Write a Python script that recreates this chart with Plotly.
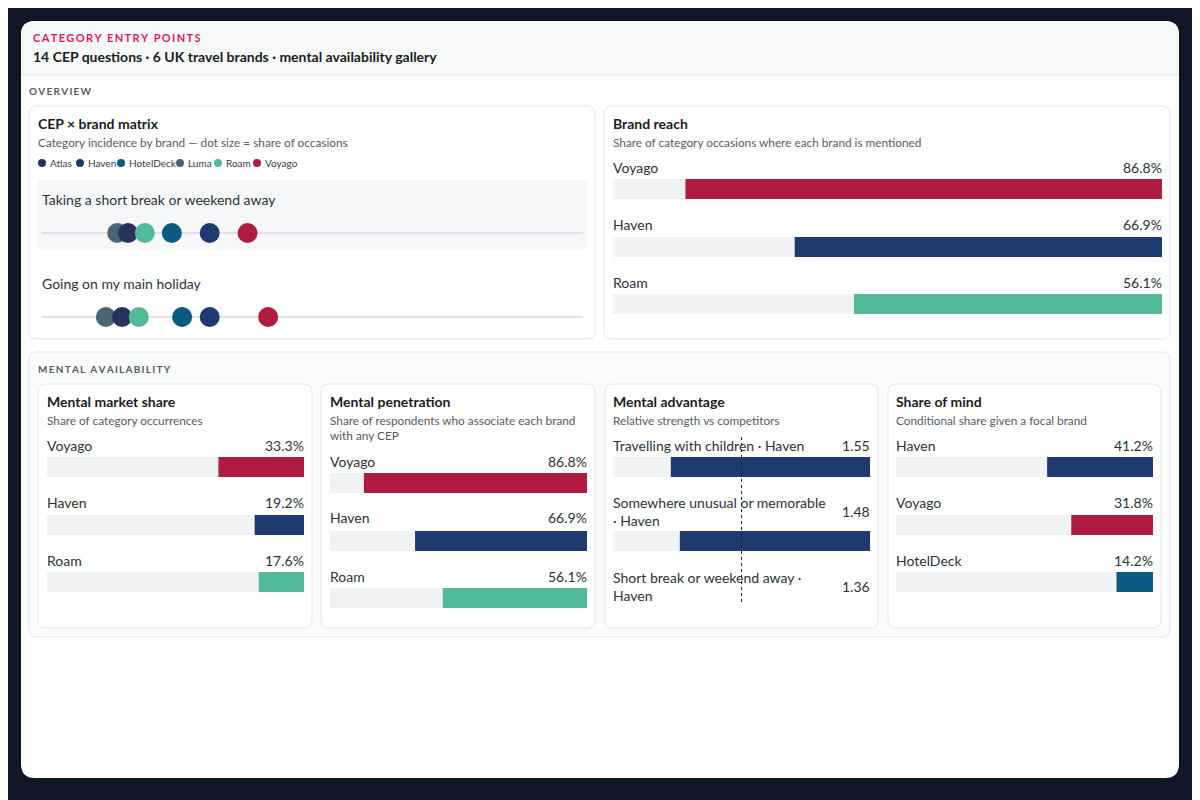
import plotly.graph_objects as go

# ---------------- data ----------------
brands = ["Atlas", "Haven", "HotelDeck", "Luma", "Roam", "Voyago"]
brand_colors = {"Atlas": "#27335c", "Haven": "#1e3a6e", "HotelDeck": "#0b5a80",
                "Luma": "#4b6575", "Roam": "#52b99a", "Voyago": "#b01c3f"}

cep_rows = ["Taking a short break or weekend away", "Going on my main holiday"]
cep_luma = [13.9, 11.8]
cep_atlas = [15.9, 14.8]
cep_roam = [19.0, 17.9]
cep_hoteldeck = [24.0, 25.9]
cep_haven = [31.0, 31.0]
cep_voyago = [38.0, 41.8]

reach_brands = ["Voyago", "Haven", "Roam"]
reach_values = [86.8, 66.9, 56.1]

mms_brands = ["Voyago", "Haven", "Roam"]
mms_values = [33.3, 19.2, 17.6]

pen_brands = ["Voyago", "Haven", "Roam"]
pen_values = [86.8, 66.9, 56.1]

adv_labels = ["Travelling with children · Haven",
              "Somewhere unusual or memorable<br>· Haven",
              "Short break or weekend away ·<br>Haven"]
adv_brands = ["Haven", "Haven", "Haven"]
adv_values = [1.55, 1.48, 1.36]

som_brands = ["Haven", "Voyago", "HotelDeck"]
som_values = [41.2, 31.8, 14.2]

# ---------------- helpers ----------------
W, H = 1200, 800
OFF = 8  # page body margin
FONT = "Lato, Noto Sans, sans-serif"
LBL = 14   # row label size
SUB = 11.8 # subtitle size
def px(x): return (x - OFF) / W
def py(y): return 1 - (y - OFF) / H

shapes, annotations = [], []

def rrect(x0, y0, x1, y1, r, fill, line=None, lw=1):
    p = (f"M{px(x0+r)},{py(y0)} L{px(x1-r)},{py(y0)} Q{px(x1)},{py(y0)} {px(x1)},{py(y0+r)} "
         f"L{px(x1)},{py(y1-r)} Q{px(x1)},{py(y1)} {px(x1-r)},{py(y1)} L{px(x0+r)},{py(y1)} "
         f"Q{px(x0)},{py(y1)} {px(x0)},{py(y1-r)} L{px(x0)},{py(y0+r)} Q{px(x0)},{py(y0)} {px(x0+r)},{py(y0)} Z")
    shapes.append(dict(type="path", path=p, xref="paper", yref="paper", fillcolor=fill,
                       line=dict(color=line or fill, width=lw if line else 0), layer="below"))

def text(x, y, s, size=12, color="#333", bold=False, anchor="left", yanchor="middle"):
    annotations.append(dict(x=px(x), y=py(y), xref="paper", yref="paper", text=(f"<b>{s}</b>" if bold else s),
                            showarrow=False, xanchor=anchor, yanchor=yanchor, borderpad=0, borderwidth=0,
                            font=dict(family=FONT, size=size, color=color), align="left"))

def spaced(s):
    return "\u2009".join(s).replace("\u2009 \u2009", "\u2002")

# background
shapes.append(dict(type="rect", x0=-0.1, x1=1.1, y0=-0.1, y1=1.1, xref="paper", yref="paper",
                   fillcolor="#111727", line=dict(width=0), layer="below"))
rrect(21, 21, 1179, 778, 14, "#ffffff")
shapes.append(dict(type="path", path=f"M{px(35)},{py(21)} L{px(1165)},{py(21)} Q{px(1179)},{py(21)} {px(1179)},{py(35)} L{px(1179)},{py(75)} L{px(21)},{py(75)} L{px(21)},{py(35)} Q{px(21)},{py(21)} {px(35)},{py(21)} Z",
                   xref="paper", yref="paper", fillcolor="#f7f8f8", line=dict(width=0), layer="below"))
shapes.append(dict(type="line", x0=px(21), x1=px(1179), y0=py(75), y1=py(75), xref="paper", yref="paper",
                   line=dict(color="#e3e5e8", width=1), layer="below"))

text(33, 37, spaced("CATEGORY ENTRY POINTS"), 11, "#d81b60", True)
text(33, 56, "14 CEP questions · 6 UK travel brands · mental availability gallery", 14, "#1a1d24", True)
text(29, 91, spaced("OVERVIEW"), 10, "#555b66", True)

# cards
rrect(29, 106, 595, 339, 8, "#ffffff", "#e3e5e8")
rrect(604, 106, 1170, 339, 8, "#ffffff", "#e3e5e8")
rrect(29, 352, 1170, 637, 8, "#fafbfb", "#e3e5e8")
text(38, 369, spaced("MENTAL AVAILABILITY"), 10, "#555b66", True)
inner = [(38, 312), (321, 595), (605, 878), (888, 1161)]
for x0, x1 in inner:
    rrect(x0, 384, x1, 628, 8, "#ffffff", "#e3e5e8")

# ---------------- figure ----------------
fig = go.Figure()
layout_axes = {}
layout_axes["yaxis"] = dict(domain=[0, 1], range=[H + OFF, OFF], visible=False, fixedrange=True)

axis_id = [1]
def new_xaxis(x0, x1, rng):
    n = axis_id[0]; axis_id[0] += 1
    key = "xaxis" if n == 1 else f"xaxis{n}"
    layout_axes[key] = dict(domain=[px(x0), px(x1)], range=rng, visible=False, anchor="y", fixedrange=True)
    return "x" if n == 1 else f"x{n}"

# CEP matrix
text(38, 123, "CEP × brand matrix", 14, "#1a1d24", True)
text(38, 142, "Category incidence by brand — dot size = share of occasions", SUB, "#555b66")
lx = [42, 80, 121, 180, 218, 257]
for b, x in zip(brands, lx):
    shapes.append(dict(type="circle", x0=px(x-4), x1=px(x+4), y0=py(167), y1=py(159), xref="paper", yref="paper",
                       fillcolor=brand_colors[b], line=dict(width=0)))
    text(x + 8, 163, b, 10, "#333a45")
shapes.append(dict(type="rect", x0=px(38), x1=px(587), y0=py(180), y1=py(250), xref="paper", yref="paper",
                   fillcolor="#f6f7f8", line=dict(width=0), layer="below"))
row_y = [233, 317]
label_y = [199, 283]
for ry, ly, lab in zip(row_y, label_y, cep_rows):
    shapes.append(dict(type="line", x0=px(42), x1=px(583), y0=py(ry), y1=py(ry), xref="paper", yref="paper",
                       line=dict(color="#dfe2e6", width=2), layer="below"))
    text(42, ly, lab, LBL, "#2d323b")
xm = new_xaxis(42, 583, [0, 100])
series = [("Luma", cep_luma), ("Atlas", cep_atlas), ("Roam", cep_roam),
          ("HotelDeck", cep_hoteldeck), ("Haven", cep_haven), ("Voyago", cep_voyago)]
for b, vals in series:
    fig.add_trace(go.Scatter(x=vals, y=row_y, mode="markers", xaxis=xm, yaxis="y", showlegend=False,
                             marker=dict(size=20, color=brand_colors[b], line=dict(width=0)), name=b))

def bar_panel(x0, x1, vmax, values, colors, bar_y):
    xa = new_xaxis(x0, x1, [vmax, 0])
    fig.add_trace(go.Bar(x=[vmax] * len(bar_y), y=bar_y, orientation="h", width=20, xaxis=xa, yaxis="y",
                         marker=dict(color="#f1f2f4", line=dict(width=0)), showlegend=False, hoverinfo="skip"))
    fig.add_trace(go.Bar(x=values[:len(bar_y)], y=bar_y, orientation="h", width=20, xaxis=xa, yaxis="y",
                         marker=dict(color=colors[:len(bar_y)], line=dict(width=0), cornerradius=3),
                         showlegend=False))
    return xa

def fmt_pct(v): return f"{v:.1f}%"

# Brand reach
text(613, 123, "Brand reach", 14, "#1a1d24", True)
text(613, 142, "Share of category occasions where each brand is mentioned", SUB, "#555b66")
bar_panel(613, 1162, 100, reach_values, [brand_colors[b] for b in reach_brands], [189, 247, 304])
for n, v, ly in zip(reach_brands, reach_values, [167, 224, 282]):
    text(613, ly, n, LBL, "#2d323b"); text(1162, ly, fmt_pct(v), LBL, "#2d323b", anchor="right")

# Mental market share
text(47, 401, "Mental market share", 14, "#1a1d24", True)
text(47, 420, "Share of category occurrences", SUB, "#555b66")
bar_panel(47, 304, 100, mms_values, [brand_colors[b] for b in mms_brands], [467, 525, 582])
for n, v, ly in zip(mms_brands, mms_values, [445, 502, 560]):
    text(47, ly, n, LBL, "#2d323b"); text(304, ly, fmt_pct(v), LBL, "#2d323b", anchor="right")

# Mental penetration
text(330, 401, "Mental penetration", 14, "#1a1d24", True)
text(330, 428, "Share of respondents who associate each brand<br>with any CEP", SUB, "#555b66")
bar_panel(330, 587, 100, pen_values, [brand_colors[b] for b in pen_brands], [483, 541, 598])
for n, v, ly in zip(pen_brands, pen_values, [461, 518, 576]):
    text(330, ly, n, LBL, "#2d323b"); text(587, ly, fmt_pct(v), LBL, "#2d323b", anchor="right")

# Mental advantage (third row's bar falls below the card's visible area)
text(613, 401, "Mental advantage", 14, "#1a1d24", True)
text(613, 420, "Relative strength vs competitors", SUB, "#555b66")
xa = bar_panel(613, 870, 2, adv_values, [brand_colors[b] for b in adv_brands], [467, 541])
for n, v, ly in zip(adv_labels, adv_values, [445, 511, 586]):
    text(613, ly, n, LBL, "#2d323b"); text(870, ly, f"{v:.2f}", LBL, "#2d323b", anchor="right")
shapes.append(dict(type="line", x0=1, x1=1, xref=xa, y0=py(437), y1=py(604), yref="paper",
                   line=dict(color="#222", width=1, dash="dot")))

# Share of mind
text(896, 401, "Share of mind", 14, "#1a1d24", True)
text(896, 420, "Conditional share given a focal brand", SUB, "#555b66")
bar_panel(896, 1153, 100, som_values, [brand_colors[b] for b in som_brands], [467, 525, 582])
for n, v, ly in zip(som_brands, som_values, [445, 502, 560]):
    text(896, ly, n, LBL, "#2d323b"); text(1153, ly, fmt_pct(v), LBL, "#2d323b", anchor="right")

fig.update_layout(width=W, height=H, margin=dict(l=0, r=0, t=0, b=0), barmode="overlay",
                  paper_bgcolor="#111727", plot_bgcolor="rgba(0,0,0,0)",
                  shapes=shapes, annotations=annotations, showlegend=False, **layout_axes)
fig.write_html("out.html", config={"displayModeBar": False})
